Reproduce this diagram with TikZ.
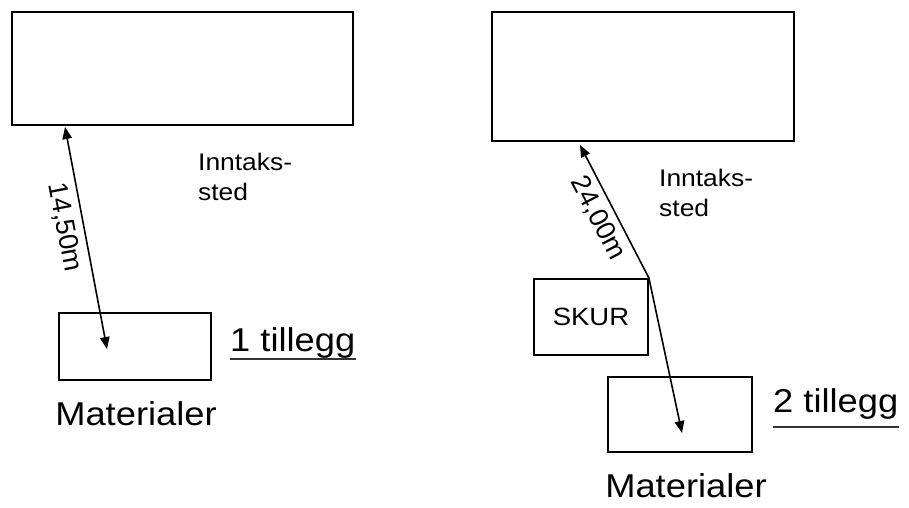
\documentclass[tikz,border=0pt]{standalone}
\usepackage{fontspec}
\setmainfont{Liberation Sans}[FakeStretch=1.1]
\newfontfamily\lblfont{Liberation Sans}
\usetikzlibrary{arrows.meta}
\tikzset{
  box/.style={draw, line width=1.9pt, inner sep=0pt, anchor=north west},
  dim/.style={line width=1.6pt, {Triangle[length=12pt,width=9.5pt]}-{Triangle[length=12pt,width=9.5pt]}},
  dimlabel/.style={font=\lblfont\fontsize{27}{27}\selectfont, sloped, below},
  small/.style={font=\fontsize{24}{30}\selectfont, inner sep=0pt, align=left, anchor=north west},
  big/.style={font=\fontsize{33}{33}\selectfont, inner sep=0pt},
  uline/.style={line width=1.3pt, black!80}
}
\begin{document}
\begin{tikzpicture}[x=1pt, y=-1pt]
\useasboundingbox (0,0) rectangle (909,507);
% left group
\node[box, minimum width=341pt, minimum height=113pt] (top1) at (11,11) {};
\node[box, minimum width=152pt, minimum height=67pt] (mat1) at (58,312) {};
\coordinate (a1s) at (65,127);
\coordinate (a1e) at (107,349);
\draw[dim] (a1s) -- node[dimlabel, pos=0.436, inner sep=7pt] (l1) {14,50m} (a1e);
\node[small] (inn1) at (198,153) {Inntaks-\\sted};
\node[big, anchor=base west] (t1) at (230,351) {1 tillegg};
\draw[uline] ([yshift=-8pt]t1.base west) -- ([yshift=-8pt]t1.base east);
\node[big, anchor=base] (m1) at (136,425) {Materialer};
% right group
\node[box, minimum width=302pt, minimum height=129pt] (top2) at (491,11) {};
\node[box, minimum width=114pt, minimum height=76pt] (skur) at (533,278) {};
\node[font=\fontsize{25}{25}\selectfont] (skurtxt) at (skur.center) {SKUR};
\node[box, minimum width=144pt, minimum height=75pt] (mat2) at (607,376) {};
\coordinate (a2s) at (580,145);
\coordinate (a2e) at (682,433);
\draw[dim] (a2s) -- node[dimlabel, pos=0.49, inner sep=6pt] (l2) {24,00m} (skur.north east) -- (a2e);
\node[small] (inn2) at (659,169) {Inntaks-\\sted};
\node[big, anchor=base west] (t2) at (773,412) {2 tillegg};
\draw[uline] ([yshift=-15pt]t2.base west) -- ([yshift=-15pt]t2.base east);
\node[big, anchor=base] (m2) at (686,497) {Materialer};
\end{tikzpicture}
\end{document}
